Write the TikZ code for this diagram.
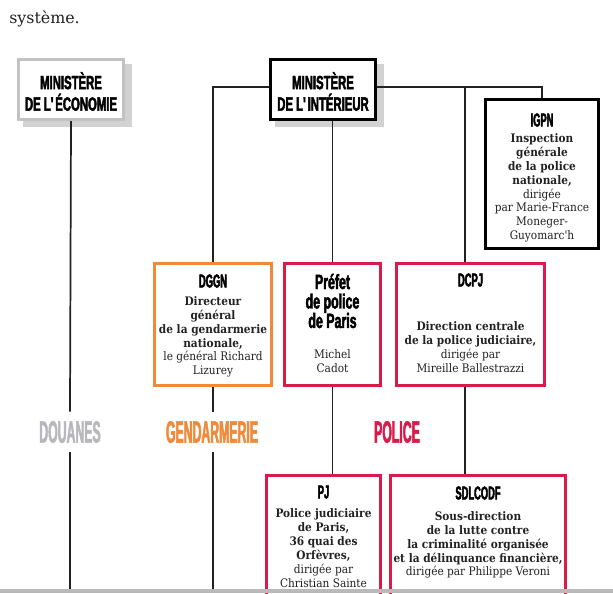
\documentclass[tikz,border=0pt]{standalone}
\usepackage{fontspec}
\setmainfont{DejaVu Serif Condensed}
\newfontfamily\topfont{DejaVu Serif}
\newfontfamily\minfont[FakeStretch=0.59,FakeBold=2.2]{Liberation Sans}
\newfontfamily\prefont[FakeStretch=0.60,FakeBold=2.2]{Liberation Sans}
\newfontfamily\headfont[FakeStretch=0.50,FakeBold=2.2]{Liberation Sans}
\newfontfamily\labfont[FakeStretch=0.40,FakeBold=1.6]{Liberation Sans}
\definecolor{ecogray}{HTML}{C2C2C2}
\definecolor{lblgray}{HTML}{B8B8BC}
\definecolor{gorange}{HTML}{EF8A3A}
\definecolor{pred}{HTML}{D91A4A}
\definecolor{ink}{HTML}{222222}
\definecolor{shadowc}{HTML}{D2D2D2}
\begin{document}
\begin{tikzpicture}[x=0.75pt,y=-0.75pt,
  box/.style={draw,rectangle,fill=white,inner sep=0pt,line width=2.3pt},
  conn/.style={line width=1.3pt,ink},
  minhead/.style={font=\minfont\bfseries\fontsize{14.4}{16.1}\selectfont,align=center,inner sep=0pt},
  head/.style={font=\headfont\bfseries\fontsize{14}{16}\selectfont,align=center,inner sep=0pt},
  bighead/.style={font=\prefont\bfseries\fontsize{15.5}{14.6}\selectfont,align=center,inner sep=0pt},
  body/.style={font=\fontsize{8.8}{10.4}\selectfont,text=ink,align=center,inner sep=0pt},
  lbl/.style={font=\labfont\bfseries\fontsize{23}{24}\selectfont,inner sep=0pt,minimum height=40*0.75pt}
]
\useasboundingbox (0,0) rectangle (613,593);
\fill[white] (0,0) rectangle (613,593);

% intro text
\node[font=\topfont\fontsize{11.9}{14}\selectfont,text=ink,anchor=base west,inner sep=0pt] (intro) at (9,23) {système.};

% coordinates
\coordinate (hl) at (0,87);
\coordinate (j1) at (465,87);
\coordinate (bot) at (0,593);

% ministry boxes with shadows
\fill[shadowc] (23,64) rectangle (132,127);
\node[box,draw=ecogray,minimum width=105*0.75pt,minimum height=60*0.75pt] (eco) at (71,89.5) {};
\fill[shadowc] (275,64) rectangle (384,127);
\node[box,draw=black,minimum width=105*0.75pt,minimum height=60*0.75pt] (int) at (323,89.5) {};
\node[minhead] (ecot) at (71,91.5) {MINISTÈRE\\DE L\textquotesingle ÉCONOMIE};
\node[minhead] (intt) at (323,91.5) {MINISTÈRE\\DE L\textquotesingle INTÉRIEUR};

% second row boxes
\node[box,draw=black,minimum width=113*0.75pt,minimum height=149*0.75pt] (igpn) at (542,174) {};
\node[box,draw=gorange,minimum width=117*0.75pt,minimum height=122*0.75pt] (dggn) at (213,324.5) {};
\node[box,draw=pred,minimum width=96*0.75pt,minimum height=122*0.75pt] (prefet) at (332.5,324.5) {};
\node[box,draw=pred,minimum width=148*0.75pt,minimum height=122*0.75pt] (dcpj) at (470.5,324.5) {};
\node[box,draw=pred,minimum width=114*0.75pt,minimum height=160*0.75pt] (pj) at (323.5,555.5) {};
\node[box,draw=pred,minimum width=175*0.75pt,minimum height=160*0.75pt] (sdl) at (478,555.5) {};

% labels
\node[lbl,text=lblgray] (douanes) at (70,432) {DOUANES};
\node[lbl,text=gorange] (gend) at (212,432) {GENDARMERIE};
\node[lbl,text=pred] (police) at (397,432) {POLICE};

% connectors
\draw[conn] (int.west |- hl) -| (dggn.north);
\draw[conn] (int.east |- hl) -| (igpn.north);
\draw[conn] (prefet.north |- int.south) -- (prefet.north);
\draw[conn] (j1) -- (j1 |- dcpj.north);
\draw[conn] (eco.south) -- (douanes.north);
\draw[conn] (douanes.south) -- (douanes.south |- bot);
\draw[conn] (dggn.south) -- (gend.north -| dggn.south);
\draw[conn] (gend.south -| dggn.south) -- (dggn.south |- bot);
\draw[conn] (prefet.south) -- (prefet.south |- pj.north);
\draw[conn] (j1 |- dcpj.south) -- (j1 |- sdl.north);

% texts inside boxes
\node[head] (igpnh) at (542,120) {IGPN};
\node[body] (igpnb) at (542,188) {\textbf{Inspection}\\\textbf{générale}\\\textbf{de la police}\\\textbf{nationale,}\\dirigée\\par Marie-France\\Moneger-\\Guyomarc\textquotesingle h};

\node[head] (dggnh) at (213,281) {DGGN};
\node[body] (dggnb) at (213,337) {\textbf{Directeur}\\\textbf{général}\\\textbf{de la gendarmerie}\\\textbf{nationale,}\\le général Richard\\Lizurey};

\node[bighead] (prefeth) at (332.5,301) {Préfet\\de police\\de Paris};
\node[body] (prefetb) at (332.5,361.5) {Michel\\Cadot};

\node[head] (dcpjh) at (470.5,280) {DCPJ};
\node[body] (dcpjb) at (470.5,347) {\textbf{Direction centrale}\\\textbf{de la police judiciaire,}\\dirigée par\\Mireille Ballestrazzi};

\node[head] (pjh) at (323.5,492) {PJ};
\node[body] (pjb) at (323.5,548) {\textbf{Police judiciaire}\\\textbf{de Paris,}\\\textbf{36 quai des}\\\textbf{Orfèvres,}\\dirigée par\\Christian Sainte};

\node[head] (sdlh) at (478,493) {SDLCODF};
\node[body] (sdlb) at (478,545) {\textbf{Sous-direction}\\\textbf{de la lutte contre}\\\textbf{la criminalité organisée}\\\textbf{et la délinquance financière,}\\dirigée par Philippe Veroni};

% bottom strip
\fill[black!27] (0,589) rectangle (613,593);
\end{tikzpicture}
\end{document}
